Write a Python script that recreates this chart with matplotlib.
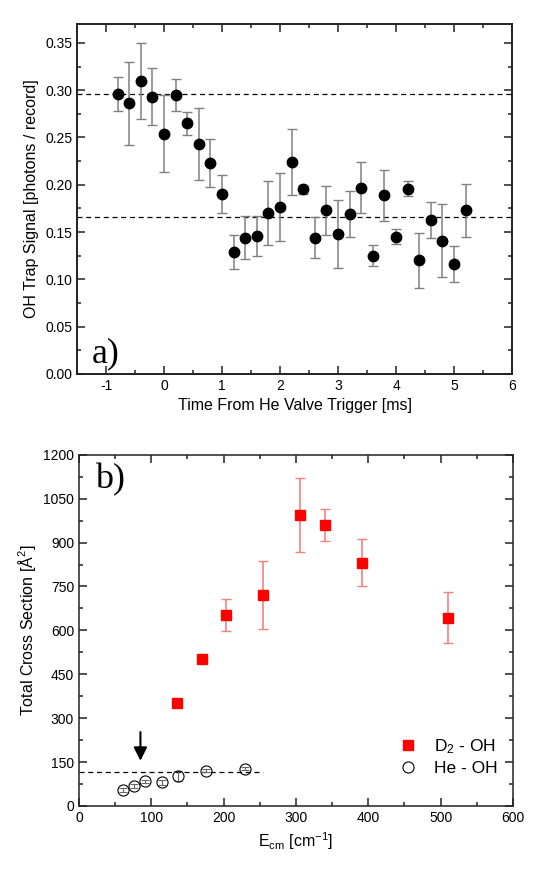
import numpy as np
import matplotlib
matplotlib.use('Agg')
import matplotlib.pyplot as plt
from matplotlib.ticker import MultipleLocator
from matplotlib.lines import Line2D

plt.rcParams['font.family'] = ['Liberation Sans', 'DejaVu Sans']
plt.rcParams['mathtext.fontset'] = 'custom'
plt.rcParams['mathtext.rm'] = 'Liberation Sans'
plt.rcParams['mathtext.it'] = 'Liberation Sans'
plt.rcParams['axes.unicode_minus'] = False

# panel a) trap signal vs. time
time_ms = [-0.8, -0.6, -0.4, -0.2, 0.0, 0.2, 0.4, 0.6, 0.8, 1.0, 1.2, 1.4, 1.6,
           1.8, 2.0, 2.2, 2.4, 2.6, 2.8, 3.0, 3.2, 3.4, 3.6, 3.8, 4.0, 4.2,
           4.4, 4.6, 4.8, 5.0, 5.2]
signal = [0.296, 0.286, 0.310, 0.293, 0.254, 0.295, 0.265, 0.243, 0.223, 0.190,
          0.129, 0.144, 0.146, 0.170, 0.176, 0.224, 0.195, 0.144, 0.173, 0.148,
          0.169, 0.197, 0.125, 0.189, 0.145, 0.196, 0.120, 0.163, 0.141, 0.116,
          0.173]
signal_err = [0.018, 0.044, 0.040, 0.030, 0.041, 0.017, 0.012, 0.038, 0.025,
              0.020, 0.018, 0.023, 0.021, 0.034, 0.036, 0.035, 0.005, 0.022,
              0.026, 0.036, 0.024, 0.027, 0.011, 0.027, 0.008, 0.008, 0.029,
              0.019, 0.039, 0.019, 0.028]
levels = [0.296, 0.166]

# panel b) cross sections
d2_e = [136, 170, 204, 255, 305, 340, 391, 510]
d2_sigma = [352, 501, 653, 721, 995, 960, 831, 644]
d2_err = [0, 0, 54, 117, 126, 56, 81, 86]
he_e = [61, 76, 92, 115, 137, 176, 229]
he_sigma = [55, 68, 84, 81, 103, 121, 127]
he_err = [6, 6, 6, 8, 16, 5, 5]
he_level = 117
arrow_e = 85

fig = plt.figure(figsize=(5.56, 8.9), dpi=100)
ax1 = fig.add_axes([0.1385, 0.580, 0.7825, 0.393])
ax2 = fig.add_axes([0.142, 0.0944, 0.7805, 0.3946])

for lvl in levels:
    ax1.axhline(lvl, color='black', ls=(0, (4, 3)), lw=0.9)
ax1.errorbar(time_ms, signal, yerr=signal_err, fmt='o', color='black',
             ms=7.5, ecolor='#808080', elinewidth=1.1, capsize=3.5, capthick=1.0)
ax1.set_xlim(-1.5, 6)
ax1.set_ylim(0, 0.37)
ax1.xaxis.set_major_locator(MultipleLocator(1))
ax1.xaxis.set_minor_locator(MultipleLocator(0.5))
ax1.yaxis.set_major_locator(MultipleLocator(0.05))
ax1.yaxis.set_minor_locator(MultipleLocator(0.025))
ax1.yaxis.set_major_formatter(matplotlib.ticker.FormatStrFormatter('%.2f'))
ax1.set_xlabel('Time From He Valve Trigger [ms]', fontsize=11.5)
ax1.set_ylabel('OH Trap Signal [photons / record]', fontsize=11.5)
ax1.text(-1.25, 0.012, 'a)', family='Liberation Serif', fontsize=26)

ax2.plot([0, 255], [he_level, he_level], color='black', ls=(0, (4, 3)), lw=0.9)
ax2.errorbar(d2_e, d2_sigma, yerr=d2_err, fmt='s', color='red', ms=7,
             ecolor='#f48080', elinewidth=1.2, capsize=3.5, capthick=1.0)
ax2.errorbar(he_e, he_sigma, yerr=he_err, fmt='o', mfc='none', mec='black',
             mew=0.8, ms=8, ecolor='#666666', elinewidth=0.8, capsize=3,
             capthick=0.8)
ax2.annotate('', xy=(arrow_e, 145), xytext=(arrow_e, 262),
             arrowprops=dict(arrowstyle='-|>', color='black', lw=1.5,
                             mutation_scale=20))
ax2.set_xlim(0, 600)
ax2.set_ylim(0, 1200)
ax2.xaxis.set_major_locator(MultipleLocator(100))
ax2.xaxis.set_minor_locator(MultipleLocator(50))
ax2.yaxis.set_major_locator(MultipleLocator(150))
ax2.yaxis.set_minor_locator(MultipleLocator(75))
ax2.set_xlabel(r'E$_\mathrm{cm}$ [cm$^\mathrm{-1}$]', fontsize=11.5)
ax2.set_ylabel(r'Total Cross Section [Å$^\mathrm{2}$]', fontsize=11.5)
ax2.text(22, 1085, 'b)', family='Liberation Serif', fontsize=26)
handles = [Line2D([], [], ls='none', marker='s', color='red', ms=7),
           Line2D([], [], ls='none', marker='o', mfc='none', mec='black',
                  mew=0.8, ms=8)]
ax2.legend(handles, ['D$_2$ - OH', 'He - OH'], loc='lower right',
           frameon=False, fontsize=12.5, handletextpad=0.5,
           bbox_to_anchor=(0.98, 0.065), borderaxespad=0, labelspacing=0.3)

for ax, lw in ((ax1, 1.4), (ax2, 1.1)):
    for sp in ax.spines.values():
        sp.set_linewidth(lw)
        sp.set_color('#222222')
    ax.tick_params(which='both', direction='in', top=True, right=True,
                   labelsize=10, width=1.1, color='#222222')
    ax.tick_params(which='major', length=6)
    ax.tick_params(which='minor', length=3)

fig.savefig('out.png', dpi=100)
